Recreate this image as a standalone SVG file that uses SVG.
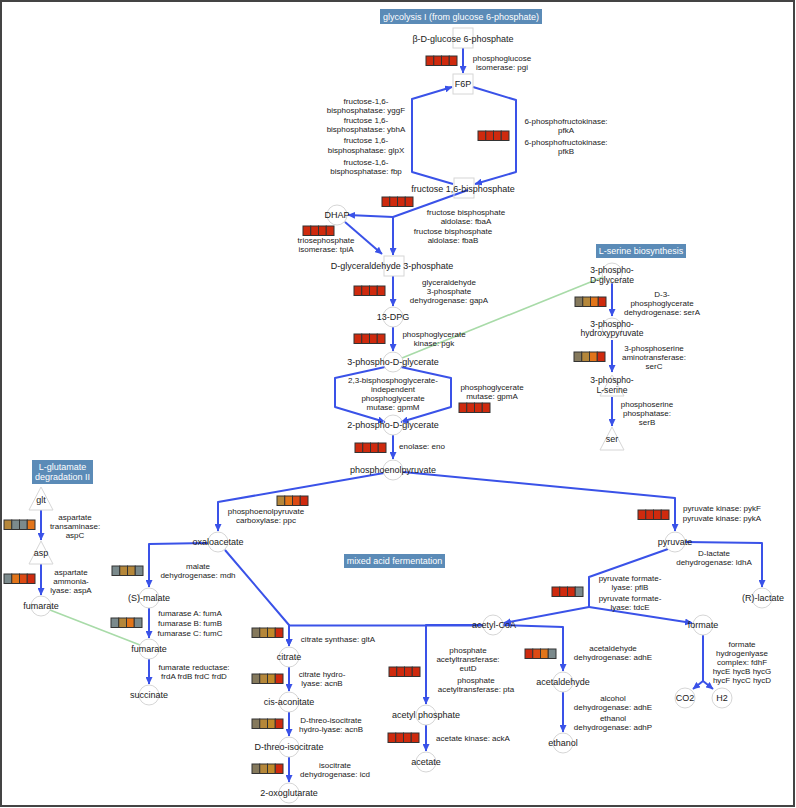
<svg xmlns="http://www.w3.org/2000/svg" width="796" height="808" viewBox="0 0 796 808">
<defs>
<marker id="ah" markerUnits="userSpaceOnUse" markerWidth="8" markerHeight="7" refX="7" refY="3.5" orient="auto">
<path d="M0,0 L7.5,3.5 L0,7 z" fill="#3a52e8"/>
</marker>
</defs>
<style>
text{font-family:"Liberation Sans",Arial,sans-serif;fill:#1a1a1a;text-anchor:middle}
.l{font-size:8px}
.m{font-size:9px}
.m2{font-size:8.6px}
.ttl{font-size:9px;fill:#fff}
.tb{fill:#5b8bb7}
.c{stroke:#3a52e8;stroke-width:2;fill:none;stroke-linejoin:round}
.ca{stroke:#3a52e8;stroke-width:2;fill:none;stroke-linejoin:round;marker-end:url(#ah)}
.g{stroke:#a8dba8;stroke-width:1.6;fill:none}
.n{fill:none;stroke:#d6d6d6;stroke-width:1}
.R{fill:#cf2a0e}.O{fill:#e2751a}.RO{fill:#dc4a14}.T{fill:#b5873a}.TG{fill:#c08a2a}.OG{fill:#85795c}.GY{fill:#7b8a8c}
.eb rect{stroke:#333;stroke-width:1}
</style>
<rect x="1" y="1" width="793" height="805" fill="#fff" stroke="#444" stroke-width="2"/>

<g id="titles">
<rect class="tb" x="380" y="9" width="162" height="15"/><text class="ttl" x="461" y="19.8">glycolysis I (from glucose 6-phosphate)</text>
<rect class="tb" x="596" y="244" width="90" height="14"/><text class="ttl" x="641" y="254.2">L-serine biosynthesis</text>
<rect class="tb" x="32" y="460" width="61" height="24"/><text class="ttl" x="62.5" y="470"><tspan x="62.5" y="470">L-glutamate</tspan><tspan x="62.5" y="480">degradation II</tspan></text>
<rect class="tb" x="344" y="554" width="101" height="14"/><text class="ttl" x="394.5" y="564.2">mixed acid fermentation</text>
</g>

<g id="connectors">
<path class="ca" d="M463,48 L463,73"/>
<path class="ca" d="M473,87 L516,100 L516,172 L475,184"/>
<path class="ca" d="M453,184 L412,172 L412,99 L452,87"/>
<path class="c" d="M468,190 L393,217"/>
<path class="ca" d="M393,217 L348,215"/>
<path class="ca" d="M393,217 L393,255"/>
<path class="ca" d="M345,222 L382,254"/>
<path class="ca" d="M393,276 L393,306"/>
<path class="ca" d="M393,327 L393,351"/>
<path class="ca" d="M385,367 L335,378 L335,407 L385,422"/>
<path class="ca" d="M401,367 L451,378 L451,407 L401,422"/>
<path class="ca" d="M393,435 L393,459"/>
<path class="ca" d="M384,473 L218,502 L218,531"/>
<path class="ca" d="M403,472 L675,498 L675,531"/>
<path class="ca" d="M685,542 L762,543 L762,587"/>
<path class="c" d="M668,549 L589,577 L589,607"/>
<path class="ca" d="M589,607 L692,623"/>
<path class="ca" d="M589,607 L504,623"/>
<path class="c" d="M703,635 L703,681"/>
<path class="ca" d="M703,681 L693,689"/>
<path class="ca" d="M703,681 L713,689"/>
<path class="ca" d="M503,625 L563,627 L563,671"/>
<path class="ca" d="M563,692 L563,732"/>
<path class="ca" d="M483,625 L426,625 L426,704"/>
<path class="ca" d="M483,625.5 L289,625.5 L289,646"/>
<path class="ca" d="M225,550 L289,625 L289,646"/>
<path class="ca" d="M426,725 L426,751"/>
<path class="ca" d="M289,667 L289,691"/>
<path class="ca" d="M289,712 L289,736"/>
<path class="ca" d="M289,757 L289,782"/>
<path class="ca" d="M208,543 L149,544 L149,587"/>
<path class="ca" d="M149,608 L149,638"/>
<path class="ca" d="M149,659 L149,684"/>
<path class="ca" d="M41,510 L41,540"/>
<path class="ca" d="M41,564 L41,595"/>
<path class="ca" d="M612,283 L612,316"/>
<path class="ca" d="M612,340 L612,372"/>
<path class="ca" d="M612,397 L612,426"/>
<path class="g" d="M50,610 L140,645"/>
<path class="g" d="M402,358 L603,277"/>
</g>

<g id="enzymes" class="eb">
<g id="e-pgi"><rect class="R" x="426" y="56" width="7.75" height="9.5"/><rect class="R" x="433.75" y="56" width="7.75" height="9.5"/><rect class="R" x="441.5" y="56" width="7.75" height="9.5"/><rect class="R" x="449.25" y="56" width="7.75" height="9.5"/></g>
<g id="e-pfk"><rect class="R" x="478" y="131" width="7.75" height="9.5"/><rect class="R" x="485.75" y="131" width="7.75" height="9.5"/><rect class="R" x="493.5" y="131" width="7.75" height="9.5"/><rect class="R" x="501.25" y="131" width="7.75" height="9.5"/></g>
<g id="e-fba"><rect class="R" x="382" y="197" width="7.75" height="9.5"/><rect class="R" x="389.75" y="197" width="7.75" height="9.5"/><rect class="R" x="397.5" y="197" width="7.75" height="9.5"/><rect class="R" x="405.25" y="197" width="7.75" height="9.5"/></g>
<g id="e-tpi"><rect class="R" x="303" y="226" width="7.75" height="9.5"/><rect class="R" x="310.75" y="226" width="7.75" height="9.5"/><rect class="R" x="318.5" y="226" width="7.75" height="9.5"/><rect class="R" x="326.25" y="226" width="7.75" height="9.5"/></g>
<g id="e-gap"><rect class="R" x="354" y="286" width="7.75" height="9.5"/><rect class="R" x="361.75" y="286" width="7.75" height="9.5"/><rect class="R" x="369.5" y="286" width="7.75" height="9.5"/><rect class="R" x="377.25" y="286" width="7.75" height="9.5"/></g>
<g id="e-pgk"><rect class="R" x="354" y="334" width="7.75" height="9.5"/><rect class="R" x="361.75" y="334" width="7.75" height="9.5"/><rect class="R" x="369.5" y="334" width="7.75" height="9.5"/><rect class="R" x="377.25" y="334" width="7.75" height="9.5"/></g>
<g id="e-gpmA"><rect class="R" x="459" y="403" width="7.75" height="9.5"/><rect class="R" x="466.75" y="403" width="7.75" height="9.5"/><rect class="R" x="474.5" y="403" width="7.75" height="9.5"/><rect class="R" x="482.25" y="403" width="7.75" height="9.5"/></g>
<g id="e-eno"><rect class="R" x="355" y="443" width="7.75" height="9.5"/><rect class="R" x="362.75" y="443" width="7.75" height="9.5"/><rect class="R" x="370.5" y="443" width="7.75" height="9.5"/><rect class="R" x="378.25" y="443" width="7.75" height="9.5"/></g>
<g id="e-ppc"><rect class="T" x="277" y="496" width="7.75" height="9.5"/><rect class="O" x="284.75" y="496" width="7.75" height="9.5"/><rect class="RO" x="292.5" y="496" width="7.75" height="9.5"/><rect class="R" x="300.25" y="496" width="7.75" height="9.5"/></g>
<g id="e-pyk"><rect class="R" x="638" y="510" width="7.75" height="9.5"/><rect class="R" x="645.75" y="510" width="7.75" height="9.5"/><rect class="R" x="653.5" y="510" width="7.75" height="9.5"/><rect class="R" x="661.25" y="510" width="7.75" height="9.5"/></g>
<g id="e-pfl"><rect class="R" x="552" y="587" width="7.75" height="9.5"/><rect class="R" x="559.75" y="587" width="7.75" height="9.5"/><rect class="R" x="567.5" y="587" width="7.75" height="9.5"/><rect class="GY" x="575.25" y="587" width="7.75" height="9.5"/></g>
<g id="e-adh"><rect class="R" x="525" y="649" width="7.75" height="9.5"/><rect class="RO" x="532.75" y="649" width="7.75" height="9.5"/><rect class="O" x="540.5" y="649" width="7.75" height="9.5"/><rect class="GY" x="548.25" y="649" width="7.75" height="9.5"/></g>
<g id="e-eut"><rect class="R" x="389" y="667" width="7.75" height="9.5"/><rect class="R" x="396.75" y="667" width="7.75" height="9.5"/><rect class="R" x="404.5" y="667" width="7.75" height="9.5"/><rect class="R" x="412.25" y="667" width="7.75" height="9.5"/></g>
<g id="e-ack"><rect class="R" x="388" y="733" width="7.75" height="9.5"/><rect class="R" x="395.75" y="733" width="7.75" height="9.5"/><rect class="R" x="403.5" y="733" width="7.75" height="9.5"/><rect class="R" x="411.25" y="733" width="7.75" height="9.5"/></g>
<g id="e-glt"><rect class="OG" x="252" y="628" width="7.75" height="9.5"/><rect class="T" x="259.75" y="628" width="7.75" height="9.5"/><rect class="TG" x="267.5" y="628" width="7.75" height="9.5"/><rect class="R" x="275.25" y="628" width="7.75" height="9.5"/></g>
<g id="e-acn1"><rect class="OG" x="252" y="674" width="7.75" height="9.5"/><rect class="T" x="259.75" y="674" width="7.75" height="9.5"/><rect class="TG" x="267.5" y="674" width="7.75" height="9.5"/><rect class="R" x="275.25" y="674" width="7.75" height="9.5"/></g>
<g id="e-acn2"><rect class="OG" x="252" y="719" width="7.75" height="9.5"/><rect class="T" x="259.75" y="719" width="7.75" height="9.5"/><rect class="TG" x="267.5" y="719" width="7.75" height="9.5"/><rect class="R" x="275.25" y="719" width="7.75" height="9.5"/></g>
<g id="e-icd"><rect class="OG" x="252" y="764" width="7.75" height="9.5"/><rect class="T" x="259.75" y="764" width="7.75" height="9.5"/><rect class="TG" x="267.5" y="764" width="7.75" height="9.5"/><rect class="R" x="275.25" y="764" width="7.75" height="9.5"/></g>
<g id="e-mdh"><rect class="GY" x="112" y="566" width="7.75" height="9.5"/><rect class="T" x="119.75" y="566" width="7.75" height="9.5"/><rect class="T" x="127.5" y="566" width="7.75" height="9.5"/><rect class="GY" x="135.25" y="566" width="7.75" height="9.5"/></g>
<g id="e-fum"><rect class="GY" x="111" y="618" width="7.75" height="9.5"/><rect class="T" x="118.75" y="618" width="7.75" height="9.5"/><rect class="O" x="126.5" y="618" width="7.75" height="9.5"/><rect class="GY" x="134.25" y="618" width="7.75" height="9.5"/></g>
<g id="e-aspC"><rect class="T" x="4" y="520" width="7.75" height="9.5"/><rect class="GY" x="11.75" y="520" width="7.75" height="9.5"/><rect class="GY" x="19.5" y="520" width="7.75" height="9.5"/><rect class="O" x="27.25" y="520" width="7.75" height="9.5"/></g>
<g id="e-aspA"><rect class="GY" x="4" y="574" width="7.75" height="9.5"/><rect class="O" x="11.75" y="574" width="7.75" height="9.5"/><rect class="RO" x="19.5" y="574" width="7.75" height="9.5"/><rect class="R" x="27.25" y="574" width="7.75" height="9.5"/></g>
<g id="e-serA"><rect class="OG" x="575" y="297" width="7.75" height="9.5"/><rect class="T" x="582.75" y="297" width="7.75" height="9.5"/><rect class="O" x="590.5" y="297" width="7.75" height="9.5"/><rect class="R" x="598.25" y="297" width="7.75" height="9.5"/></g>
<g id="e-serC"><rect class="OG" x="574" y="352" width="7.75" height="9.5"/><rect class="T" x="581.75" y="352" width="7.75" height="9.5"/><rect class="O" x="589.5" y="352" width="7.75" height="9.5"/><rect class="R" x="597.25" y="352" width="7.75" height="9.5"/></g>
</g>

<g id="enzyme-labels">
<text class="l" x="502" y="60.5"><tspan x="502" y="60.5">phosphoglucose</tspan><tspan x="502" y="69.5">isomerase: pgi</tspan></text>
<text class="l" x="566" y="124"><tspan x="566" y="124">6-phosphofructokinase:</tspan><tspan x="566" y="133">pfkA</tspan></text>
<text class="l" x="566" y="145"><tspan x="566" y="145">6-phosphofructokinase:</tspan><tspan x="566" y="154">pfkB</tspan></text>
<text class="l" x="366" y="103.5"><tspan x="366" y="103.5">fructose-1,6-</tspan><tspan x="366" y="112.5">bisphosphatase: yggF</tspan></text>
<text class="l" x="366" y="123"><tspan x="366" y="123">fructose 1,6-</tspan><tspan x="366" y="132">bisphosphatase: ybhA</tspan></text>
<text class="l" x="366" y="143"><tspan x="366" y="143">fructose 1,6-</tspan><tspan x="366" y="152.5">bisphosphatase: glpX</tspan></text>
<text class="l" x="366" y="164.5"><tspan x="366" y="164.5">fructose-1,6-</tspan><tspan x="366" y="174">bisphosphatase: fbp</tspan></text>
<text class="l" x="466" y="214.5"><tspan x="466" y="214.5">fructose bisphosphate</tspan><tspan x="466" y="223.5">aldolase: fbaA</tspan></text>
<text class="l" x="453" y="233.5"><tspan x="453" y="233.5">fructose bisphosphate</tspan><tspan x="453" y="242.5">aldolase: fbaB</tspan></text>
<text class="l" x="326" y="242.5"><tspan x="326" y="242.5">triosephosphate</tspan><tspan x="326" y="251.5">isomerase: tpiA</tspan></text>
<text class="l" x="449" y="285"><tspan x="449" y="285">glyceraldehyde</tspan><tspan x="449" y="294">3-phosphate</tspan><tspan x="449" y="303">dehydrogenase: gapA</tspan></text>
<text class="l" x="434" y="337"><tspan x="434" y="337">phosphoglycerate</tspan><tspan x="434" y="346">kinase: pgk</tspan></text>
<text class="l" x="393" y="382.6"><tspan x="393" y="382.6">2,3-bisphosphoglycerate-</tspan><tspan x="393" y="391.6">independent</tspan><tspan x="393" y="400.6">phosphoglycerate</tspan><tspan x="393" y="409.6">mutase: gpmM</tspan></text>
<text class="l" x="492" y="389.5"><tspan x="492" y="389.5">phosphoglycerate</tspan><tspan x="492" y="398.5">mutase: gpmA</tspan></text>
<text class="l" x="422" y="449">enolase: eno</text>
<text class="l" x="266" y="513.5"><tspan x="266" y="513.5">phosphoenolpyruvate</tspan><tspan x="266" y="522.5">carboxylase: ppc</tspan></text>
<text class="l" x="722" y="511"><tspan x="722" y="511">pyruvate kinase: pykF</tspan><tspan x="722" y="521">pyruvate kinase: pykA</tspan></text>
<text class="l" x="714" y="555.5"><tspan x="714" y="555.5">D-lactate</tspan><tspan x="714" y="564.5">dehydrogenase: ldhA</tspan></text>
<text class="l" x="630" y="581"><tspan x="630" y="581">pyruvate formate-</tspan><tspan x="630" y="590">lyase: pflB</tspan></text>
<text class="l" x="630" y="601"><tspan x="630" y="601">pyruvate formate-</tspan><tspan x="630" y="610">lyase: tdcE</tspan></text>
<text class="l" x="742" y="646.6"><tspan x="742" y="646.6">formate</tspan><tspan x="742" y="655.6">hydrogenlyase</tspan><tspan x="742" y="664.6">complex: fdhF</tspan><tspan x="742" y="673.6">hycE hycB hycG</tspan><tspan x="742" y="682.6">hycF hycC hycD</tspan></text>
<text class="l" x="613" y="651"><tspan x="613" y="651">acetaldehyde</tspan><tspan x="613" y="660">dehydrogenase: adhE</tspan></text>
<text class="l" x="613" y="701"><tspan x="613" y="701">alcohol</tspan><tspan x="613" y="710">dehydrogenase: adhE</tspan></text>
<text class="l" x="613" y="721"><tspan x="613" y="721">ethanol</tspan><tspan x="613" y="730">dehydrogenase: adhP</tspan></text>
<text class="l" x="468" y="653"><tspan x="468" y="653">phosphate</tspan><tspan x="468" y="662">acetyltransferase:</tspan><tspan x="468" y="671">eutD</tspan></text>
<text class="l" x="476" y="682.5"><tspan x="476" y="682.5">phosphate</tspan><tspan x="476" y="691.5">acetyltransferase: pta</tspan></text>
<text class="l" x="473" y="741">acetate kinase: ackA</text>
<text class="l" x="338" y="642">citrate synthase: gltA</text>
<text class="l" x="322" y="676.5"><tspan x="322" y="676.5">citrate hydro-</tspan><tspan x="322" y="685.5">lyase: acnB</tspan></text>
<text class="l" x="331" y="722.5"><tspan x="331" y="722.5">D-threo-isocitrate</tspan><tspan x="331" y="731.5">hydro-lyase: acnB</tspan></text>
<text class="l" x="335" y="767.5"><tspan x="335" y="767.5">isocitrate</tspan><tspan x="335" y="776.5">dehydrogenase: icd</tspan></text>
<text class="l" x="198" y="569"><tspan x="198" y="569">malate</tspan><tspan x="198" y="578">dehydrogenase: mdh</tspan></text>
<text class="l" x="190" y="616"><tspan x="190" y="616">fumarase A: fumA</tspan><tspan x="190" y="626">fumarase B: fumB</tspan><tspan x="190" y="636">fumarase C: fumC</tspan></text>
<text class="l" x="194" y="669.5"><tspan x="194" y="669.5">fumarate reductase:</tspan><tspan x="194" y="678.5">frdA frdB frdC frdD</tspan></text>
<text class="l" x="75" y="519.5"><tspan x="75" y="519.5">aspartate</tspan><tspan x="75" y="528.5">transaminase:</tspan><tspan x="75" y="537.5">aspC</tspan></text>
<text class="l" x="71" y="575"><tspan x="71" y="575">aspartate</tspan><tspan x="71" y="584">ammonia-</tspan><tspan x="71" y="593">lyase: aspA</tspan></text>
<text class="l" x="662" y="296.5"><tspan x="662" y="296.5">D-3-</tspan><tspan x="662" y="305.5">phosphoglycerate</tspan><tspan x="662" y="314.5">dehydrogenase: serA</tspan></text>
<text class="l" x="654" y="350.5"><tspan x="654" y="350.5">3-phosphoserine</tspan><tspan x="654" y="359.5">aminotransferase:</tspan><tspan x="654" y="368.5">serC</tspan></text>
<text class="l" x="647" y="406.5"><tspan x="647" y="406.5">phosphoserine</tspan><tspan x="647" y="415.5">phosphatase:</tspan><tspan x="647" y="424.5">serB</tspan></text>
</g>

<g id="nodes">
<g id="n-g6p"><rect class="n" x="453" y="28" width="20" height="20"/><text class="m" x="463" y="42">β-D-glucose 6-phosphate</text></g>
<g id="n-f6p"><rect class="n" x="453" y="74" width="20" height="20"/><text class="m" x="463" y="87">F6P</text></g>
<g id="n-fbp"><rect class="n" x="454" y="178" width="20" height="20"/><text class="m" x="463" y="192">fructose 1,6-bisphosphate</text></g>
<g id="n-dhap"><circle class="n" cx="337" cy="215" r="10"/><text class="m" x="337" y="218">DHAP</text></g>
<g id="n-gap"><rect class="n" x="384" y="256" width="20" height="20"/><text class="m" x="392" y="269">D-glyceraldehyde 3-phosphate</text></g>
<g id="n-13dpg"><circle class="n" cx="393" cy="317" r="10"/><text class="m" x="393" y="320">13-DPG</text></g>
<g id="n-3pg"><circle class="n" cx="393" cy="362" r="10"/><text class="m" x="393" y="365">3-phospho-D-glycerate</text></g>
<g id="n-2pg"><circle class="n" cx="393" cy="425" r="10"/><text class="m" x="393" y="428">2-phospho-D-glycerate</text></g>
<g id="n-pep"><circle class="n" cx="393" cy="470" r="10"/><text class="m" x="393" y="473">phosphoenolpyruvate</text></g>
<g id="n-oaa"><circle class="n" cx="218" cy="542" r="10"/><text class="m" x="218" y="545">oxaloacetate</text></g>
<g id="n-pyr"><circle class="n" cx="675" cy="542" r="10"/><text class="m" x="675" y="545">pyruvate</text></g>
<g id="n-lac"><circle class="n" cx="762" cy="598" r="10"/><text class="m" x="763" y="601">(R)-lactate</text></g>
<g id="n-for"><circle class="n" cx="703" cy="625" r="10"/><text class="m" x="703" y="628">formate</text></g>
<g id="n-co2"><circle class="n" cx="685" cy="698" r="10"/><text class="m" x="685" y="701">CO2</text></g>
<g id="n-h2"><circle class="n" cx="722" cy="698" r="10"/><text class="m" x="722" y="701">H2</text></g>
<g id="n-accoa"><circle class="n" cx="493" cy="625" r="10"/><text class="m" x="494" y="628">acetyl-CoA</text></g>
<g id="n-acald"><circle class="n" cx="563" cy="682" r="10"/><text class="m" x="563" y="685">acetaldehyde</text></g>
<g id="n-etoh"><circle class="n" cx="563" cy="743" r="10"/><text class="m" x="563" y="746">ethanol</text></g>
<g id="n-acp"><circle class="n" cx="426" cy="715" r="10"/><text class="m" x="426" y="718">acetyl phosphate</text></g>
<g id="n-ac"><circle class="n" cx="426" cy="762" r="10"/><text class="m" x="426" y="765">acetate</text></g>
<g id="n-cit"><circle class="n" cx="289" cy="657" r="10"/><text class="m" x="289" y="660">citrate</text></g>
<g id="n-cis"><circle class="n" cx="289" cy="702" r="10"/><text class="m" x="289" y="705">cis-aconitate</text></g>
<g id="n-icit"><circle class="n" cx="289" cy="747" r="10"/><text class="m" x="289" y="750">D-threo-isocitrate</text></g>
<g id="n-2og"><circle class="n" cx="289" cy="793" r="10"/><text class="m" x="289" y="796">2-oxoglutarate</text></g>
<g id="n-mal"><circle class="n" cx="149" cy="598" r="10"/><text class="m" x="149" y="601">(S)-malate</text></g>
<g id="n-fum"><circle class="n" cx="149" cy="649" r="10"/><text class="m" x="149" y="652">fumarate</text></g>
<g id="n-succ"><circle class="n" cx="149" cy="695" r="10"/><text class="m" x="149" y="698">succinate</text></g>
<g id="n-glt"><path class="n" d="M41,487 L29,510 L53,510 z"/><text class="m" x="41" y="503">glt</text></g>
<g id="n-asp"><path class="n" d="M41,541 L29,564 L53,564 z"/><text class="m" x="41" y="556">asp</text></g>
<g id="n-fum2"><circle class="n" cx="41" cy="606" r="10"/><text class="m" x="41" y="609">fumarate</text></g>
<g id="n-s3pg"><circle class="n" cx="612" cy="273" r="10"/><text class="m2" x="612" y="273.2"><tspan x="612" y="273.2">3-phospho-</tspan><tspan x="612" y="282.9">D-glycerate</tspan></text></g>
<g id="n-php"><circle class="n" cx="612" cy="328" r="10"/><text class="m2" x="612" y="326.7"><tspan x="612" y="326.7">3-phospho-</tspan><tspan x="612" y="336.4">hydroxypyruvate</tspan></text></g>
<g id="n-ps"><path class="n" d="M612,375 L600,396 L624,396 z"/><text class="m2" x="612" y="383.2"><tspan x="612" y="383.2">3-phospho-</tspan><tspan x="612" y="392.9">L-serine</tspan></text></g>
<g id="n-ser"><path class="n" d="M612,427 L600,450 L624,450 z"/><text class="m" x="612" y="442">ser</text></g>
</g>
</svg>
